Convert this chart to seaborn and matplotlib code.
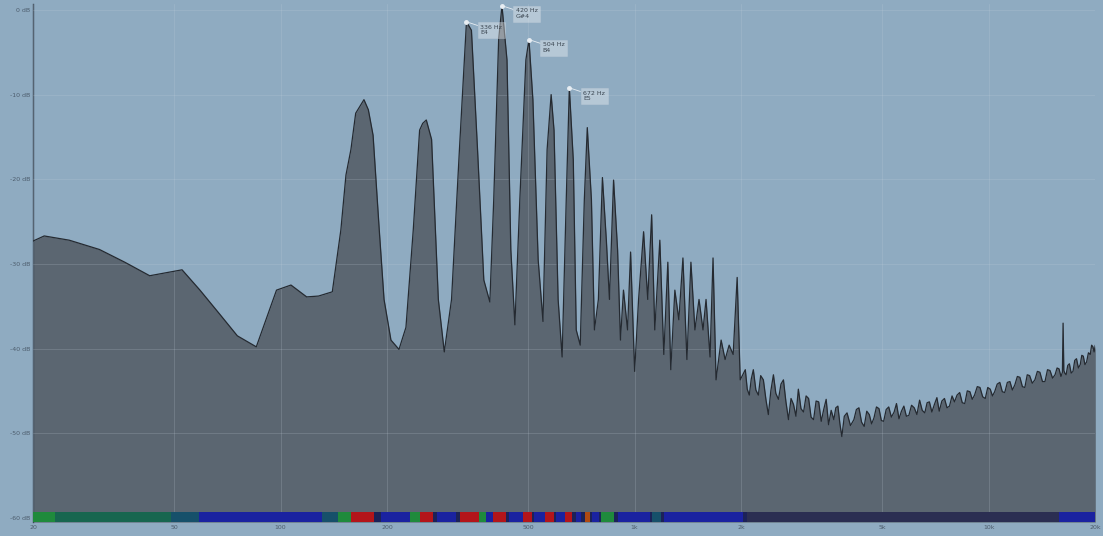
import matplotlib.pyplot as plt
import numpy as np
import pandas as pd
import seaborn as sns

# spectrum (Hz, dB)
freq = [20, 21.5, 25.3, 30.8, 36.3, 42.7, 52.7, 59.2, 67.5, 75.5, 85.4, 97.4, 107, 118.5, 128, 140,
        148, 153, 158, 163, 168, 172, 177, 182.5, 190, 196, 205, 216, 226, 237, 247, 252, 258, 267, 279, 290,
        304, 320, 335, 346, 360, 375, 390, 400, 413, 422, 436, 447, 459, 474, 493, 503,
        516, 534, 551, 566, 581, 592, 608, 624, 641, 654, 671, 684, 702, 721, 735, 755,
        770, 790, 811, 832, 849, 872, 895, 912, 930, 955, 974, 1000, 1026, 1060, 1089, 1117,
        1140, 1178, 1209, 1241, 1265, 1299, 1333, 1369, 1405, 1442, 1480, 1520, 1560, 1591, 1633, 1665,
        1698, 1755, 1801, 1849, 1898, 1948, 1987,
        2054, 2080, 2108, 2135, 2164, 2200, 2236, 2270, 2310, 2350, 2386, 2425, 2466, 2505, 2548, 2590,
        2632, 2675, 2720, 2765, 2810, 2855, 2900, 2950, 3000, 3050, 3100, 3150, 3202, 3255, 3310, 3365,
        3420, 3475, 3530, 3590, 3652, 3700, 3750, 3800, 3848, 3910, 3980, 4070, 4162, 4230, 4300, 4375,
        4450, 4525, 4600, 4670, 4742, 4820, 4900, 4975, 5050, 5135, 5220, 5310, 5406, 5490, 5580, 5670,
        5760, 5855, 5950, 6055, 6162, 6270, 6380, 6490, 6600, 6700, 6800, 6910, 7026, 7140, 7250, 7375,
        7500, 7625, 7750, 7880, 8006, 8140, 8280, 8420, 8560, 8700, 8850, 8985, 9122, 9285, 9450, 9615,
        9780, 9940, 10100, 10250, 10396, 10570, 10750, 10925, 11100, 11290, 11480, 11665, 11852, 12050, 12250, 12450,
        12650, 12850, 13050, 13275, 13504, 13725, 13950, 14185, 14420, 14660, 14900, 15150, 15396, 15600, 15800, 16000,
        16150, 16222, 16300, 16400, 16544, 16720, 16900, 17100, 17300, 17500, 17700, 17920, 18136, 18320, 18500, 18700,
        18900, 19130, 19358, 19530, 19700, 19850, 20000]
level = [-27.3, -26.7, -27.2, -28.3, -29.8, -31.4, -30.7, -33.1, -36.0, -38.5, -39.8, -33.1, -32.5, -33.9, -33.8, -33.3,
         -26.0, -19.5, -16.5, -12.2, -11.3, -10.6, -11.8, -14.8, -26.0, -34.2, -39.0, -40.1, -37.5, -26.0, -14.2, -13.4, -13.0, -15.3, -34.2, -40.4,
         -34.2, -16.5, -1.4, -2.4, -16.5, -31.9, -34.5, -22.4, -3.5, 0.5, -5.9, -28.3, -37.2, -22.4, -5.9, -3.5,
         -10.6, -29.5, -36.8, -16.5, -10.0, -14.2, -34.2, -41.0, -22.4, -9.2, -17.7, -37.8, -39.6, -22.4, -13.9, -22.4,
         -37.8, -34.2, -19.8, -27.2, -34.2, -20.1, -28.3, -39.0, -33.1, -37.8, -28.6, -42.7, -34.2, -26.2, -34.2, -24.2,
         -37.8, -27.2, -40.7, -29.8, -42.5, -33.1, -36.6, -29.3, -41.3, -29.8, -37.8, -34.2, -37.8, -34.2, -41.0, -29.3,
         -43.7, -39.0, -41.3, -39.6, -40.7, -31.6, -43.7,
         -42.5, -44.8, -45.5, -43.6, -42.5, -44.9, -45.5, -43.2, -43.7, -46.1, -47.8, -45.0, -43.1, -45.3, -46.0, -44.2,
         -43.7, -46.3, -48.4, -45.9, -46.6, -48.0, -44.8, -47.1, -47.5, -45.6, -45.9, -48.1, -48.4, -46.2, -46.3, -48.6,
         -47.2, -46.0, -49.0, -47.3, -48.4, -47.0, -46.8, -48.9, -50.4, -48.0, -47.6, -49.1, -48.4, -47.2, -47.0, -48.7,
         -49.2, -47.4, -47.8, -48.9, -48.2, -46.9, -47.1, -48.5, -48.6, -47.2, -46.9, -48.1, -47.5, -46.5, -48.3, -47.4,
         -46.8, -48.0, -47.9, -46.7, -47.0, -47.8, -46.1, -47.3, -47.6, -46.4, -46.3, -47.5, -46.6, -45.8, -47.4, -46.2,
         -45.9, -47.0, -46.8, -45.6, -46.3, -45.5, -45.2, -46.4, -46.5, -45.0, -45.1, -46.0, -45.5, -44.5, -44.6, -45.7,
         -45.9, -44.6, -44.8, -45.6, -45.1, -44.2, -44.0, -45.1, -45.2, -44.0, -43.9, -44.9, -44.3, -43.3, -43.4, -44.5,
         -44.6, -43.1, -43.2, -44.1, -43.7, -42.7, -42.8, -43.9, -43.9, -42.5, -42.6, -43.5, -43.1, -42.3, -42.4, -43.3,
         -42.8, -37.0, -42.6, -42.9, -43.1, -42.0, -41.8, -42.9, -42.7, -41.4, -41.2, -42.3, -41.9, -40.8, -40.9, -41.9,
         -41.6, -40.5, -40.7, -39.6, -39.8, -40.4, -39.6]

# peak labels
ann_freq = [335, 422, 503, 654]
ann_db = [-1.4, 0.5, -3.5, -9.2]
ann_text = ["336 Hz\nE4", "420 Hz\nG#4", "504 Hz\nB4", "672 Hz\nE5"]

# pitch colour strip along the bottom (segment edges in Hz + class)
strip_edges = [20, 23, 49, 59, 131, 145, 158, 184, 192, 232, 247, 270, 277, 312, 322, 363, 380, 398, 433, 441,
               484, 513, 520, 559, 592, 600, 637, 666, 684, 707, 726, 750, 760, 795, 806, 872, 895, 1103, 1117,
               1185, 1209, 2026, 2080, 15800, 20000]
strip_class = ["g", "gt", "t", "b", "t", "g", "r", "d", "b", "g", "r", "d", "b", "d", "r", "g", "b", "r", "d",
               "b", "r", "d", "b", "r", "d", "b", "r", "d", "b", "d", "o", "d", "b", "d", "g", "d", "b", "d",
               "t", "d", "b", "d", "n", "b"]

yticks = [0, -10, -20, -30, -40, -50, -60]
ytick_labels = ["0 dB", "-10 dB", "-20 dB", "-30 dB", "-40 dB", "-50 dB", "-60 dB"]
xticks = [20, 50, 100, 200, 500, 1000, 2000, 5000, 10000, 20000]
xtick_labels = ["20", "50", "100", "200", "500", "1k", "2k", "5k", "10k", "20k"]

df = pd.DataFrame({"freq": freq, "db": level})
bg = "#8fabc1"
class_colors = {"g": "#1f8a3c", "gt": "#17664f", "t": "#16506a", "b": "#1a22a0", "r": "#b3151a",
                "d": "#1c2258", "o": "#b04a12", "n": "#2b2e52"}

sns.set_style("white", {"axes.facecolor": bg, "figure.facecolor": bg})
fig = plt.figure(figsize=(11.03, 5.36), dpi=100)
ax = fig.add_axes([0.030, 0.026, 0.963, 0.9665])
ax.set_xscale("log")

floor = -60.5
ax.fill_between(df["freq"], df["db"], floor, color="#5b6671", zorder=2, lw=0)
sns.lineplot(data=df, x="freq", y="db", ax=ax, color="#252a31", lw=0.9, zorder=3)

# colour strip
lefts = np.array(strip_edges[:-1])
widths = np.array(strip_edges[1:]) - lefts
ax.bar(lefts, 1.2, width=widths, bottom=floor, align="edge",
       color=[class_colors[c] for c in strip_class], lw=0, zorder=4)

for f, d, t in zip(ann_freq, ann_db, ann_text):
    ax.plot(f, d, "o", ms=2.5, color="#e8eef3", zorder=5)
    ax.annotate(t, xy=(f, d), xytext=(10, -2), textcoords="offset points",
                fontsize=4.5, color="#3a4550", va="top", ha="left", zorder=6,
                bbox=dict(boxstyle="square,pad=0.4", fc="white", ec="#c8d4de", alpha=0.35, lw=0.6),
                arrowprops=dict(arrowstyle="-", color="#e8eef3", lw=0.6, shrinkA=0, shrinkB=0))

ax.set_xlim(20, 20000)
ax.set_ylim(floor, 0.7)
ax.set_xticks(xticks)
ax.set_xticklabels(xtick_labels)
ax.minorticks_off()
ax.set_yticks(yticks)
ax.set_yticklabels(ytick_labels)
ax.tick_params(length=0, labelsize=4.5, labelcolor="#4d5d6d", pad=2)
ax.grid(True, color="#c9d6e0", lw=0.6, alpha=0.22, zorder=2.5)
ax.set_axisbelow(False)
ax.set_xlabel("")
ax.set_ylabel("")
for s in ["top", "right", "bottom"]:
    ax.spines[s].set_visible(False)
ax.spines["left"].set_color("#3c4a58")
ax.spines["left"].set_linewidth(1.0)

fig.savefig("out.png", dpi=100, facecolor=bg)
